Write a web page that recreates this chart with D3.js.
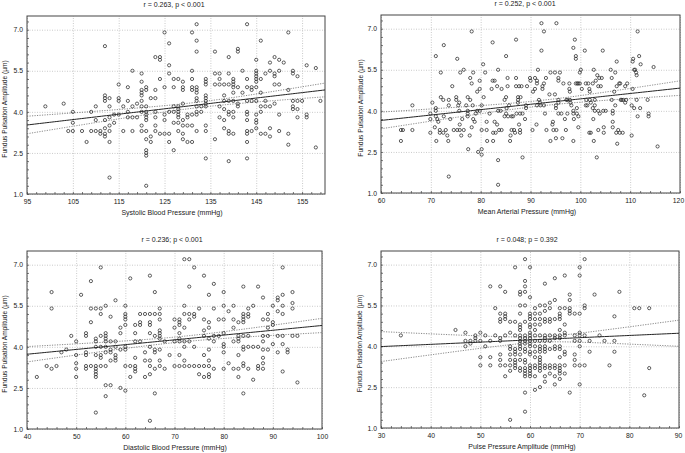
<!DOCTYPE html>
<html><head><meta charset="utf-8">
<script src="https://cdn.jsdelivr.net/npm/d3@7"></script>
<style>
body{margin:0;background:#fff}
svg{display:block}
text{font-family:"Liberation Sans",Arial,Helvetica,sans-serif;fill:#1a1a1a}
</style>
</head><body>
<svg id="c" width="685" height="453"></svg>
<script>
// ---------------- data ----------------
const yLabelText = "Fundus Pulsation Amplitude (µm)";
const titles = ["r = 0.263, p < 0.001", "r = 0.252, p < 0.001", "r = 0.236; p < 0.001", "r = 0.048; p = 0.392"];
const xLabels = ["Systolic Blood Pressure (mmHg)", "Mean Arterial Pressure (mmHg)", "Diastolic Blood Pressure (mmHg)", "Pulse Pressure Amplitude (mmHg)"];
const xDomains = [[95,160],[60,120],[40,100],[30,90]];
const xTicks = [[95,105,115,125,135,145,155],[60,70,80,90,100,110,120],[40,50,60,70,80,90,100],[30,40,50,60,70,80,90]];
const yDomain = [1.0, 7.5];
const yTicks = [1.0, 2.5, 4.0, 5.5, 7.0];
// regression line value at left / right end of x domain
const fitLeft  = [3.52, 3.65, 3.73, 3.99];
const fitRight = [4.80, 4.83, 4.78, 4.48];
// 95% confidence band half-width at left end, right end and narrowest point
const bandLeft  = [0.32, 0.305, 0.28, 0.55];
const bandRight = [0.25, 0.265, 0.26, 0.48];
const bandMin   = [0.10, 0.10, 0.10, 0.10];

const sbp = [[99,4.2],[103,4.3],[104,3.3],[105,4.0],[105,3.6],[105,3.3],[107,3.3],[108,2.9],[109,4.0],[109,3.3],[110,4.2],[110,3.7],[110,3.3],[111,3.2],[111,3.3],[112,6.4],[112,4.6],[112,4.5],[112,4.4],[112,3.7],[112,3.4],[112,3.2],[112,3.1],[113,4.5],[113,4.2],[113,3.8],[113,3.5],[113,3.3],[113,2.9],[113,1.6],[114,3.9],[114,3.6],[115,5.0],[115,4.5],[115,4.4],[115,3.9],[116,4.2],[116,3.3],[117,4.9],[117,4.4],[117,4.0],[117,3.8],[118,5.5],[118,4.2],[118,3.8],[118,3.3],[119,4.3],[119,3.8],[120,5.4],[120,5.1],[120,4.8],[120,4.7],[120,4.6],[120,4.4],[120,4.2],[120,4.0],[120,3.5],[120,3.3],[121,4.9],[121,4.8],[121,4.2],[121,4.0],[121,3.9],[121,3.8],[121,3.7],[121,3.3],[121,3.0],[121,2.6],[121,2.5],[121,2.4],[121,1.3],[122,4.5],[122,3.1],[122,2.9],[123,6.0],[123,4.5],[123,4.8],[123,4.0],[123,3.8],[123,3.5],[123,3.3],[124,6.0],[124,5.9],[124,5.2],[124,3.2],[125,6.9],[125,4.9],[125,3.9],[125,3.7],[125,3.2],[126,6.5],[126,5.7],[126,5.4],[126,4.0],[126,3.2],[126,2.9],[127,5.2],[127,4.9],[127,4.2],[127,4.0],[127,3.6],[127,2.6],[128,5.2],[128,4.2],[128,4.1],[128,4.0],[128,3.9],[128,3.8],[128,3.6],[128,3.3],[129,5.1],[129,4.9],[129,4.8],[129,4.3],[129,3.7],[129,3.5],[129,3.2],[129,3.0],[130,3.9],[130,3.8],[130,3.5],[130,2.9],[131,6.9],[131,5.5],[131,5.2],[131,4.9],[131,4.8],[131,3.9],[131,3.5],[131,2.9],[132,7.2],[132,6.6],[132,6.2],[132,4.9],[132,4.8],[132,4.7],[132,4.5],[132,4.4],[132,4.2],[132,4.0],[132,3.9],[132,3.3],[133,4.2],[133,4.0],[134,5.2],[134,5.1],[134,5.0],[134,4.6],[134,4.5],[134,4.4],[134,4.3],[134,4.2],[134,3.5],[134,3.3],[134,2.3],[136,6.2],[136,5.4],[136,5.0],[136,3.0],[137,5.4],[137,5.2],[137,5.0],[137,4.2],[137,3.8],[138,5.0],[138,4.6],[138,4.4],[138,4.1],[138,3.7],[138,3.4],[139,6.0],[139,5.4],[139,5.0],[139,4.4],[139,4.0],[139,3.9],[139,3.3],[139,3.2],[139,2.2],[140,5.2],[140,5.1],[140,5.0],[140,4.9],[140,4.7],[140,4.4],[140,4.0],[140,3.8],[140,3.2],[141,6.3],[141,6.2],[141,4.9],[141,4.3],[141,4.2],[142,5.5],[142,4.7],[143,7.2],[143,5.2],[143,4.9],[143,4.4],[143,4.0],[143,3.9],[143,3.7],[143,3.3],[143,3.2],[143,2.9],[143,2.3],[144,4.9],[144,4.8],[144,4.4],[144,3.3],[145,5.9],[145,5.5],[145,5.4],[145,5.3],[145,5.2],[145,5.1],[145,4.9],[145,4.4],[145,3.9],[145,3.7],[145,3.6],[145,3.4],[146,6.6],[146,5.2],[146,4.7],[146,4.2],[146,4.0],[146,3.2],[147,5.4],[147,4.4],[147,4.2],[147,3.2],[148,5.8],[148,5.5],[148,4.2],[148,3.4],[148,3.1],[149,6.0],[149,5.4],[149,5.3],[149,5.0],[149,4.3],[150,5.9],[150,5.5],[150,5.0],[150,3.9],[150,3.3],[151,5.8],[152,6.9],[152,4.8],[152,3.2],[152,2.8],[153,5.5],[153,5.4],[153,4.4],[153,4.2],[153,4.1],[154,5.3],[154,4.4],[154,4.1],[154,3.8],[155,4.4],[156,5.7],[156,3.9],[156,3.8],[158,5.6],[158,2.7],[159,4.4]];

const map = [[64.0,2.9],[64.0,3.3],[64.4,3.3],[66.3,4.2],[66.3,3.3],[70.3,4.3],[69.9,3.9],[69.9,3.7],[70.8,3.4],[69.9,3.2],[71.0,6.0],[71.0,4.1],[71.0,4.0],[71.0,3.8],[71.1,2.9],[71.3,3.7],[71.5,3.6],[71.8,3.3],[71.8,3.2],[72.0,5.4],[72.0,4.5],[72.5,4.4],[72.5,3.2],[72.6,6.4],[72.6,3.8],[73.0,3.3],[73.3,3.1],[73.5,2.9],[73.6,1.6],[73.6,4.2],[73.6,4.4],[73.9,3.7],[74.3,4.9],[74.6,3.3],[75.1,4.5],[75.1,4.4],[75.3,5.9],[75.3,3.3],[75.5,4.2],[75.7,4.3],[75.7,4.0],[75.8,3.5],[75.8,3.3],[75.9,5.4],[76.1,3.1],[76.3,3.7],[76.6,5.5],[76.6,3.3],[77.1,4.2],[77.4,4.5],[77.4,4.0],[77.4,3.9],[77.4,3.8],[77.5,2.6],[77.8,3.1],[77.9,5.2],[77.9,4.4],[78.2,6.9],[78.2,5.0],[78.2,3.4],[78.4,4.2],[78.5,5.4],[78.5,3.7],[78.8,3.6],[79.0,3.9],[79.3,4.0],[79.3,4.7],[79.5,2.5],[79.8,4.8],[79.8,4.0],[79.8,5.1],[80.2,4.2],[80.2,3.3],[80.2,2.6],[80.2,2.4],[80.5,5.7],[80.6,4.5],[80.9,5.4],[81.2,3.6],[81.2,3.3],[81.3,2.9],[81.8,3.9],[82.2,4.8],[82.4,6.5],[82.4,5.1],[82.5,2.9],[82.5,3.2],[82.8,5.1],[82.8,3.6],[83.0,3.2],[83.3,4.9],[83.3,3.5],[83.5,5.5],[83.5,4.0],[83.5,2.2],[83.5,1.3],[83.7,3.3],[84.0,4.0],[84.2,4.8],[84.2,3.3],[84.8,4.4],[84.8,3.8],[85.1,6.0],[85.1,4.5],[85.1,3.9],[85.2,4.1],[85.4,5.2],[85.4,4.9],[85.5,3.8],[85.7,4.2],[85.9,2.9],[86.0,3.1],[86.2,3.8],[86.5,3.8],[86.2,3.3],[86.7,3.3],[86.9,3.2],[87.1,6.6],[87.1,5.2],[87.1,4.9],[87.2,3.9],[87.5,4.5],[87.5,4.4],[87.5,4.3],[87.7,4.9],[87.7,3.5],[87.9,3.9],[87.9,3.3],[87.9,3.2],[88.0,4.5],[88.2,4.9],[88.4,3.9],[88.4,2.3],[88.9,3.7],[89.1,4.2],[89.1,4.1],[89.3,4.9],[89.9,5.2],[90.0,5.1],[90.4,3.3],[90.5,4.7],[90.9,4.8],[90.9,5.2],[91.2,3.5],[91.3,4.2],[91.3,5.1],[91.3,5.0],[91.5,5.5],[91.7,4.4],[91.9,4.3],[92.0,4.2],[92.2,6.2],[92.2,7.2],[92.4,4.9],[92.4,4.8],[92.7,6.9],[92.7,5.0],[92.7,4.2],[92.9,3.9],[93.1,5.2],[93.2,3.3],[93.8,4.6],[94.0,5.4],[94.0,2.9],[94.4,3.5],[94.5,3.6],[94.6,3.3],[94.9,4.6],[94.9,5.4],[95.1,4.2],[95.1,4.1],[95.1,3.0],[95.2,7.2],[95.2,3.3],[95.6,5.2],[95.6,5.1],[95.6,4.4],[95.6,4.3],[95.6,3.9],[95.9,5.4],[96.2,3.9],[96.4,3.0],[96.6,5.0],[96.9,3.7],[97.1,3.3],[97.2,4.4],[97.4,4.4],[97.4,3.9],[97.8,5.0],[97.8,4.8],[97.9,4.7],[97.9,4.4],[98.0,4.3],[98.2,4.2],[98.6,6.3],[98.6,4.0],[98.6,3.9],[98.6,2.9],[98.7,3.7],[98.9,6.6],[99.1,6.0],[99.1,5.9],[99.1,5.0],[99.3,4.1],[99.3,3.9],[99.4,5.0],[99.6,5.0],[99.6,3.8],[99.6,3.4],[99.9,5.0],[99.9,5.4],[100.1,5.5],[100.3,4.8],[100.9,6.2],[101.1,5.0],[101.1,4.2],[101.2,4.4],[101.4,4.2],[101.6,5.0],[101.8,4.8],[101.9,4.7],[101.8,3.2],[101.9,4.4],[102.1,4.3],[102.1,3.2],[102.5,5.0],[102.5,4.1],[102.6,3.7],[102.7,5.5],[102.7,2.9],[102.9,4.4],[102.9,4.2],[102.9,4.0],[103.1,5.1],[103.3,2.3],[103.4,5.3],[103.6,4.9],[103.6,4.0],[103.6,3.3],[103.8,5.2],[103.9,3.9],[104.1,4.9],[104.3,5.2],[104.5,6.2],[104.6,4.0],[104.7,3.4],[104.7,3.2],[105.1,4.0],[106.1,5.5],[106.3,5.2],[106.3,4.4],[106.5,4.0],[106.5,3.9],[106.5,3.6],[106.5,3.4],[106.8,4.7],[107.0,4.2],[107.0,5.4],[107.2,3.2],[107.3,5.8],[107.3,4.9],[107.4,2.8],[107.6,3.3],[107.8,5.0],[108.0,5.0],[107.9,3.2],[108.1,4.4],[108.3,4.4],[108.5,3.2],[108.6,4.4],[109.0,4.3],[109.0,4.9],[109.2,4.4],[109.4,5.0],[110.3,4.2],[110.3,3.1],[110.5,5.8],[110.5,4.8],[110.6,5.9],[110.8,5.5],[111.0,5.5],[110.8,4.1],[111.2,5.4],[111.3,5.3],[111.3,4.4],[111.5,6.9],[111.5,3.8],[111.8,6.0],[112.0,4.1],[112.1,5.7],[113.5,4.4],[113.7,3.9],[113.7,3.8],[114.7,5.6],[115.5,2.7]];

const dbp = [[42,2.9],[44,3.3],[45,6.0],[45,5.4],[45,3.2],[46,3.3],[47,3.8],[48,3.9],[49,4.4],[50,4.2],[50,3.7],[50,3.4],[50,3.2],[50,2.9],[51,5.9],[52,4.5],[52,4.4],[52,3.8],[52,3.7],[52,3.3],[52,3.2],[53,6.4],[53,5.4],[53,4.9],[53,3.3],[54,5.4],[54,4.3],[54,4.2],[54,4.0],[54,3.7],[54,3.3],[54,3.2],[54,3.1],[54,3.0],[54,2.9],[54,1.6],[55,6.9],[55,5.4],[55,5.2],[55,4.4],[55,4.0],[55,3.7],[55,3.6],[55,3.3],[56,5.5],[56,4.5],[56,4.4],[56,4.3],[56,4.2],[56,4.0],[56,3.8],[56,3.3],[56,2.6],[56,2.2],[57,5.1],[57,4.2],[57,3.9],[57,3.8],[57,3.5],[57,2.6],[58,5.7],[58,4.2],[58,4.0],[58,3.7],[58,3.6],[58,3.5],[59,4.7],[59,4.5],[59,3.9],[59,2.5],[60,5.5],[60,5.2],[60,5.1],[60,5.0],[60,4.8],[60,4.0],[60,3.9],[60,3.3],[60,2.4],[61,6.5],[61,3.3],[61,2.9],[62,4.8],[62,4.5],[62,4.2],[62,3.6],[62,3.3],[62,3.2],[62,3.1],[63,5.2],[63,4.9],[63,4.8],[63,4.2],[64,5.2],[64,3.8],[64,3.5],[64,2.9],[65,6.6],[65,5.2],[65,4.9],[65,4.8],[65,4.5],[65,4.0],[65,3.5],[65,3.3],[65,3.0],[65,1.3],[66,6.0],[66,5.2],[66,4.4],[66,3.9],[66,3.8],[66,3.2],[66,2.3],[67,5.4],[67,5.2],[67,5.0],[67,4.6],[67,4.5],[67,4.4],[67,4.3],[67,3.9],[67,3.5],[67,3.3],[68,4.2],[68,3.2],[69,3.7],[70,5.0],[70,4.7],[70,4.2],[70,3.3],[71,5.0],[71,4.9],[71,4.8],[71,4.5],[71,4.3],[71,4.2],[71,3.7],[71,3.3],[72,7.2],[72,5.5],[72,5.2],[72,4.7],[72,4.2],[72,4.0],[72,3.5],[72,3.3],[73,7.2],[73,6.2],[73,5.2],[73,5.0],[73,4.2],[73,3.3],[74,6.9],[74,5.2],[74,5.1],[74,4.0],[74,3.3],[75,5.4],[75,3.3],[75,3.0],[76,6.6],[76,5.0],[76,4.6],[76,4.4],[76,3.7],[76,3.3],[76,2.9],[77,5.9],[77,4.9],[77,4.7],[77,4.3],[77,3.9],[77,3.5],[77,3.3],[77,3.0],[77,2.9],[78,6.3],[78,5.4],[78,4.4],[78,4.2],[78,3.2],[79,5.0],[79,4.4],[80,6.0],[80,5.5],[80,5.0],[80,4.5],[80,4.1],[80,4.0],[80,3.8],[80,3.2],[81,5.3],[81,3.4],[82,5.5],[82,5.0],[82,4.7],[82,4.2],[82,3.2],[83,4.9],[83,4.4],[83,4.3],[83,4.2],[83,3.7],[83,3.2],[83,2.9],[84,6.2],[84,5.2],[84,5.1],[84,5.0],[84,4.9],[84,4.4],[84,4.0],[84,3.9],[84,3.4],[84,3.3],[84,2.3],[85,5.4],[85,5.2],[85,5.1],[85,4.4],[85,4.0],[85,3.2],[86,5.5],[86,4.0],[86,2.8],[87,6.2],[87,4.0],[87,3.3],[87,3.2],[88,5.8],[88,5.0],[88,4.4],[88,4.2],[88,3.9],[88,3.6],[88,3.4],[88,3.2],[89,5.2],[89,5.0],[89,4.7],[89,4.4],[89,3.9],[90,5.5],[90,4.9],[90,4.8],[90,4.1],[91,5.8],[91,5.7],[91,5.3],[91,4.4],[91,3.8],[92,6.9],[92,5.9],[92,5.5],[92,5.2],[92,4.4],[92,4.1],[92,3.1],[93,3.9],[93,3.8],[94,6.0],[94,5.6],[94,5.4],[94,4.4],[95,4.4],[95,2.7]];

const pp = [[34,4.4],[45,4.6],[47,4.5],[47,4.2],[47,4.0],[48,4.2],[48,4.1],[49,4.3],[49,4.4],[49,4.2],[50,4.5],[50,4.2],[50,3.6],[50,3.3],[51,4.4],[51,4.0],[52,6.2],[52,4.2],[52,3.6],[52,3.3],[53,5.4],[53,4.4],[54,6.2],[54,5.2],[54,5.0],[54,4.9],[54,4.3],[54,4.2],[54,3.7],[54,3.5],[54,3.3],[55,6.0],[55,5.2],[55,5.1],[55,5.0],[55,4.4],[55,3.3],[55,2.9],[56,4.9],[56,4.5],[56,4.0],[56,3.9],[56,3.7],[56,3.5],[56,3.3],[56,3.1],[56,1.3],[57,6.9],[57,4.9],[57,4.4],[57,3.9],[57,3.8],[57,3.7],[57,3.5],[57,3.4],[57,3.3],[57,3.2],[58,6.0],[58,5.9],[58,5.5],[58,5.2],[58,4.8],[58,4.7],[58,4.6],[58,4.4],[58,4.3],[58,4.2],[58,4.1],[58,4.0],[58,3.9],[58,3.7],[58,3.5],[58,3.2],[58,3.1],[59,7.2],[59,6.4],[59,6.2],[59,6.0],[59,5.5],[59,4.9],[59,4.4],[59,4.3],[59,4.2],[59,4.1],[59,3.9],[59,3.8],[59,3.5],[59,3.4],[59,3.2],[59,3.1],[59,3.0],[59,2.9],[59,2.3],[59,1.6],[60,6.9],[60,5.8],[60,5.2],[60,5.1],[60,5.0],[60,4.8],[60,4.7],[60,4.5],[60,4.4],[60,4.3],[60,4.2],[60,4.1],[60,4.0],[60,3.8],[60,3.7],[60,3.3],[60,3.2],[60,3.1],[60,3.0],[60,2.9],[61,5.4],[61,5.2],[61,5.0],[61,4.8],[61,4.6],[61,4.4],[61,4.2],[61,4.0],[61,3.8],[61,3.6],[61,3.3],[61,3.2],[61,2.9],[61,2.4],[62,5.5],[62,5.2],[62,5.0],[62,4.8],[62,4.4],[62,4.2],[62,4.0],[62,3.9],[62,3.8],[62,3.6],[62,3.5],[62,3.4],[62,3.3],[62,3.2],[62,3.1],[62,2.5],[63,6.3],[63,5.5],[63,5.3],[63,5.0],[63,4.9],[63,4.4],[63,4.3],[63,4.2],[63,4.0],[63,3.9],[63,3.8],[63,3.3],[63,3.2],[63,2.9],[63,2.7],[64,5.6],[64,5.4],[64,5.0],[64,4.9],[64,4.4],[64,4.2],[64,3.9],[64,3.3],[64,3.2],[64,3.0],[65,6.5],[65,5.7],[65,5.0],[65,4.4],[65,4.3],[65,4.0],[65,3.9],[65,3.3],[65,3.2],[65,2.9],[65,2.6],[66,5.4],[66,5.2],[66,5.1],[66,5.0],[66,4.6],[66,4.4],[66,4.3],[66,4.0],[66,3.9],[66,3.6],[66,3.3],[66,3.2],[66,3.1],[66,3.0],[66,2.8],[67,6.6],[67,5.4],[67,4.8],[67,4.5],[67,4.4],[67,3.8],[67,3.7],[67,3.3],[67,3.0],[68,5.9],[68,5.7],[68,5.4],[68,5.3],[68,5.2],[68,2.3],[69,5.2],[69,4.4],[69,4.2],[69,3.7],[69,3.5],[69,3.3],[70,6.9],[70,6.6],[70,5.2],[70,4.5],[70,4.4],[70,4.2],[70,4.0],[70,3.3],[70,2.6],[71,7.2],[71,5.5],[71,5.4],[71,4.4],[71,3.3],[72,4.2],[72,3.8],[73,5.9],[74,4.4],[75,4.2],[76,3.3],[77,5.1],[77,4.2],[77,3.8],[78,6.0],[81,5.4],[82,5.4],[83,2.2],[84,5.4],[84,3.2]];

const series = [sbp, map, dbp, pp];

// ---------------- layout ----------------
const layout = [
  {l:27,  r:325, t:16,  b:194, titleX:174, xlabX:172, ylabX:5},
  {l:381, r:680, t:15,  b:193, titleX:525, xlabX:527, ylabX:361},
  {l:27,  r:322, t:251, b:429, titleX:172, xlabX:175, ylabX:5},
  {l:381, r:679, t:251, b:428, titleX:527, xlabX:522, ylabX:360}
];
const FONT = 7;
const TICKFONT = 6.8;
const SVG_W = 685;

const svg = d3.select("#c");

layout.forEach((L, i) => {
  const x = d3.scaleLinear().domain(xDomains[i]).range([L.l, L.r]);
  const y = d3.scaleLinear().domain(yDomain).range([L.b, L.t]);
  const g = svg.append("g");
  const H = L.b - L.t, W = L.r - L.l;

  // grid lines
  g.append("g").attr("transform", `translate(0,${L.b})`)
    .call(d3.axisBottom(x).tickValues(xTicks[i]).tickSize(-H).tickFormat(""))
    .call(s => { s.select(".domain").remove();
      s.selectAll("line").attr("stroke", "#bdbdbd").attr("stroke-width", 0.8).attr("stroke-dasharray", "1,1.5"); });
  g.append("g").attr("transform", `translate(${L.l},0)`)
    .call(d3.axisLeft(y).tickValues(yTicks).tickSize(-W).tickFormat(""))
    .call(s => { s.select(".domain").remove();
      s.selectAll("line").attr("stroke", "#bdbdbd").attr("stroke-width", 0.8).attr("stroke-dasharray", "1,1.5"); });

  // minor ticks (inward)
  const xMinor = d3.range(xDomains[i][0], xDomains[i][1] + 0.001, 2);
  const yMinor = d3.range(1.0, 7.5 + 0.001, 0.3);
  g.append("g").attr("transform", `translate(0,${L.b})`)
    .call(d3.axisBottom(x).tickValues(xMinor).tickSize(-2).tickFormat(""))
    .call(s => { s.select(".domain").remove(); s.selectAll("line").attr("stroke", "#555").attr("stroke-width", 0.8); });
  g.append("g").attr("transform", `translate(${L.l},0)`)
    .call(d3.axisLeft(y).tickValues(yMinor).tickSize(-2).tickFormat(""))
    .call(s => { s.select(".domain").remove(); s.selectAll("line").attr("stroke", "#555").attr("stroke-width", 0.8); });

  // frame
  g.append("rect").attr("x", L.l).attr("y", L.t).attr("width", W).attr("height", H)
    .attr("fill", "none").attr("stroke", "#444").attr("stroke-width", 1);

  // tick labels
  g.append("g").attr("transform", `translate(0,${L.b})`)
    .call(d3.axisBottom(x).tickValues(xTicks[i]).tickSize(0).tickPadding(5).tickFormat(d3.format("d")))
    .call(s => { s.select(".domain").remove();
      s.attr("font-size", TICKFONT).attr("font-family", null);
      s.selectAll("text").attr("fill", "#1a1a1a")
        .attr("dx", d => (x(d) + 7 > SVG_W ? -(x(d) + 7 - SVG_W) : 0)); });
  g.append("g").attr("transform", `translate(${L.l},0)`)
    .call(d3.axisLeft(y).tickValues(yTicks).tickSize(0).tickPadding(4).tickFormat(d3.format(".1f")))
    .call(s => { s.select(".domain").remove();
      s.attr("font-size", TICKFONT).attr("font-family", null);
      s.selectAll("text").attr("fill", "#1a1a1a"); });

  // confidence band and regression line
  const [x0, x1] = xDomains[i];
  const fit = d3.scaleLinear().domain([x0, x1]).range([fitLeft[i], fitRight[i]]);
  const h0 = bandMin[i];
  const a = Math.sqrt(bandLeft[i] ** 2 - h0 * h0), c = Math.sqrt(bandRight[i] ** 2 - h0 * h0);
  const xc = x0 + (x1 - x0) * a / (a + c);
  const k = a / (xc - x0);
  const half = v => Math.sqrt(h0 * h0 + k * k * (v - xc) ** 2);
  const xs = d3.range(x0, x1 + 1e-9, (x1 - x0) / 120);
  g.append("clipPath").attr("id", "clip" + i)
    .append("rect").attr("x", L.l).attr("y", L.t).attr("width", W).attr("height", H);
  const lineGen = f => d3.line().x(v => x(v)).y(v => y(f(v)))(xs);
  [v => fit(v) + half(v), v => fit(v) - half(v)].forEach(f => {
    g.append("path").attr("d", lineGen(f)).attr("fill", "none")
      .attr("stroke", "#6a6a6a").attr("stroke-width", 0.8).attr("stroke-dasharray", "1.2,1.3")
      .attr("clip-path", `url(#clip${i})`);
  });
  g.append("path").attr("d", lineGen(fit)).attr("fill", "none")
    .attr("stroke", "#222").attr("stroke-width", 1);

  // points
  g.append("g").selectAll("circle").data(series[i]).join("circle")
    .attr("cx", d => x(d[0])).attr("cy", d => y(d[1])).attr("r", 1.6)
    .attr("fill", "none").attr("stroke", "#2a2a2a").attr("stroke-width", 0.75);

  // title
  g.append("text").attr("x", L.titleX).attr("y", L.t - 11).attr("dy", "0.35em")
    .attr("text-anchor", "middle").attr("font-size", FONT).text(titles[i]);
  // x label
  g.append("text").attr("x", L.xlabX).attr("y", L.b + 19).attr("dy", "0.35em")
    .attr("text-anchor", "middle").attr("font-size", FONT).text(xLabels[i]);
  // y label
  const cy = (L.t + L.b) / 2 + 4;
  g.append("text").attr("transform", `translate(${L.ylabX},${cy}) rotate(-90)`).attr("dy", "0.35em")
    .attr("text-anchor", "middle").attr("font-size", 6.6).text(yLabelText);
});
</script>
</body></html>
